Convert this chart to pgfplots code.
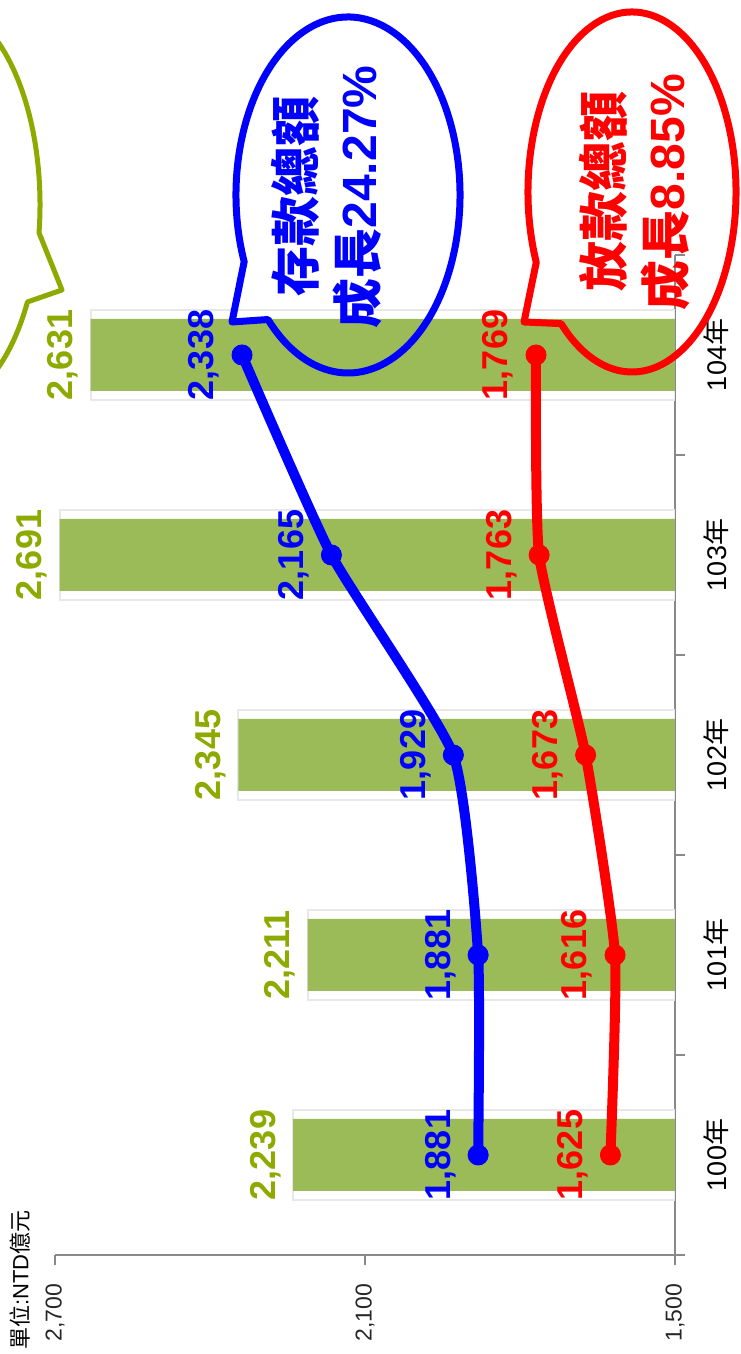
\documentclass[border=0pt]{standalone}
\usepackage{pgfplots}
\pgfplotsset{compat=1.18}
\usepackage{fontspec}
\setmainfont{Liberation Sans}
\newfontfamily\cjk{Noto Sans CJK TC}
\definecolor{barg}{RGB}{155,187,89}
\definecolor{labg}{RGB}{140,170,0}
\definecolor{axgray}{RGB}{137,137,137}
\begin{document}
\begin{tikzpicture}
\useasboundingbox (-27.5pt,-49.5pt) rectangle (342.5pt,627.5pt);
\begin{axis}[
  at={(0pt,0pt)}, anchor=south west,
  scale only axis, width=310pt, height=500pt,
  x dir=reverse,
  xmin=1500, xmax=2700, ymin=99.5, ymax=104.5,
  xtick={1500,2100,2700},
  ytick={100,101,102,103,104},
  yticklabels={100{\cjk 年},101{\cjk 年},102{\cjk 年},103{\cjk 年},104{\cjk 年}},
  minor ytick={99.5,100.5,101.5,102.5,103.5,104.5},
  axis x line*=bottom, axis y line*=right,
  axis line style={draw=axgray, line width=1pt, -},
  tick align=outside,
  major tick length=5pt, minor tick length=5pt,
  major y tick style={draw=none},
  minor y tick style={draw=axgray, line width=1pt},
  major x tick style={draw=axgray, line width=1pt},
  /pgf/number format/1000 sep={,},
  /pgf/number format/assume math mode=true,
  xticklabel shift=6pt,
  yticklabel shift=6pt,
  xticklabel style={rotate=90, anchor=east, font=\fontsize{11.5}{13}\selectfont, text=black!85},
  yticklabel style={rotate=90, anchor=north, font=\fontsize{13.5}{16}\selectfont},
  point meta=x,
]
\addplot[xbar, bar width=45pt, bar shift=0pt, draw=gray!18, line width=1pt, fill=white, forget plot]
  coordinates {(2239,100) (2211,101) (2345,102) (2691,103) (2631,104)};
\addplot[xbar, bar width=36pt, bar shift=0pt, draw=none, fill=barg,
  nodes near coords,
  nodes near coords style={rotate=90, anchor=south, inner sep=6pt, font=\bfseries\fontsize{18}{20}\selectfont, text=labg}]
  coordinates {(2239,100) (2211,101) (2345,102) (2691,103) (2631,104)};
\addplot[red, line width=5pt, smooth, tension=0.3, mark=*, mark size=5pt,
  mark options={solid, fill=red, draw=red, line width=0.5pt},
  nodes near coords,
  nodes near coords style={rotate=90, anchor=south, inner sep=11pt, font=\bfseries\fontsize{18}{20}\selectfont, text=red}]
  coordinates {(1625,100) (1616,101) (1673,102) (1763,103) (1769,104)};
\addplot[blue, line width=5pt, smooth, tension=0.3, mark=*, mark size=5pt,
  mark options={solid, fill=blue, draw=blue, line width=0.5pt},
  nodes near coords,
  nodes near coords style={rotate=90, anchor=south, inner sep=11pt, font=\bfseries\fontsize{18}{20}\selectfont, text=blue}]
  coordinates {(1881,100) (1881,101) (1929,102) (2165,103) (2338,104)};
\end{axis}
\begin{scope}[x=0.5pt, y=-0.5pt, shift={(-27.5pt,627.5pt)}]
\draw[blue, line width=3.5pt, line join=round] (348,195) ++(158:112 and 178) arc[start angle=158, delta angle=337.6, x radius=112, y radius=178] -- (232,322) -- cycle;
\draw[red, line width=3.5pt, line join=round] (632,192) ++(157:104 and 180) arc[start angle=157, delta angle=336, x radius=104, y radius=180] -- (524,322) -- cycle;
\draw[labg, line width=2.5pt, line join=round] (-60,205) ++(8:100 and 200) arc[start angle=8, delta angle=-339, x radius=100, y radius=200] -- (62,290) -- cycle;
\node[rotate=90, align=center, text=blue, font=\bfseries\fontsize{25}{31}\selectfont] at (327,197) {{\cjk\bfseries 存款總額}\\{\cjk\bfseries 成長}\textbf{\fontsize{24}{31}\selectfont 24.27\%}};
\node[rotate=90, align=center, text=red, font=\bfseries\fontsize{25}{31}\selectfont] at (635,192) {{\cjk\bfseries 放款總額}\\{\cjk\bfseries 成長}\textbf{\fontsize{24}{31}\selectfont 8.85\%}};
\node[rotate=90, anchor=west, inner sep=0pt, font=\fontsize{11}{13}\selectfont] at (20,1350) {{\cjk 單位}:NTD{\cjk 億元}};
\end{scope}
\end{tikzpicture}
\end{document}
